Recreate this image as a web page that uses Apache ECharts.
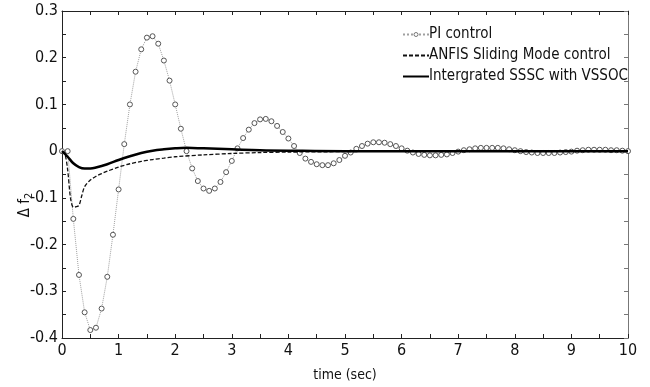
<!DOCTYPE html>
<html><head><meta charset="utf-8">
<script src="https://cdn.jsdelivr.net/npm/echarts@6/dist/echarts.min.js"></script>
<style>html,body{margin:0;padding:0;background:#fff}#c{width:650px;height:387px}</style>
</head><body><div id="c"></div>
<script>
// PI control, sampled every 0.1 s
const piTime = [0,0.1,0.2,0.3,0.4,0.5,0.6,0.7,0.8,0.9,1,1.1,1.2,1.3,1.4,1.5,1.6,1.7,1.8,1.9,2,2.1,2.2,2.3,2.4,2.5,2.6,2.7,2.8,2.9,3,3.1,3.2,3.3,3.4,3.5,3.6,3.7,3.8,3.9,4,4.1,4.2,4.3,4.4,4.5,4.6,4.7,4.8,4.9,5,5.1,5.2,5.3,5.4,5.5,5.6,5.7,5.8,5.9,6,6.1,6.2,6.3,6.4,6.5,6.6,6.7,6.8,6.9,7,7.1,7.2,7.3,7.4,7.5,7.6,7.7,7.8,7.9,8,8.1,8.2,8.3,8.4,8.5,8.6,8.7,8.8,8.9,9,9.1,9.2,9.3,9.4,9.5,9.6,9.7,9.8,9.9,10];
const piValues = [0,0,-0.145,-0.265,-0.345,-0.383,-0.378,-0.337,-0.269,-0.179,-0.082,0.015,0.100,0.170,0.218,0.243,0.246,0.230,0.194,0.151,0.100,0.048,0.000,-0.037,-0.064,-0.080,-0.085,-0.080,-0.066,-0.045,-0.021,0.006,0.028,0.046,0.060,0.068,0.069,0.064,0.054,0.041,0.027,0.011,-0.004,-0.016,-0.023,-0.028,-0.030,-0.030,-0.026,-0.019,-0.010,-0.003,0.005,0.011,0.016,0.019,0.019,0.018,0.015,0.011,0.006,0.001,-0.003,-0.006,-0.008,-0.009,-0.009,-0.008,-0.007,-0.004,-0.001,0.002,0.004,0.006,0.007,0.007,0.007,0.007,0.006,0.004,0.002,0.000,-0.002,-0.003,-0.004,-0.004,-0.004,-0.004,-0.003,-0.002,-0.001,0.001,0.002,0.003,0.003,0.003,0.003,0.002,0.002,0.001,0.000];

// ANFIS sliding mode control
const anfisTime = [0,0.05,0.1,0.15,0.2,0.25,0.3,0.35,0.4,0.5,0.6,0.7,0.8,1.0,1.2,1.4,1.6,1.8,2.0,2.5,3.0,3.5,4.0,5,6,7,8,9,10];
const anfisValues = [0,-0.005,-0.04,-0.10,-0.12,-0.119,-0.116,-0.095,-0.076,-0.062,-0.054,-0.048,-0.043,-0.034,-0.027,-0.022,-0.018,-0.015,-0.012,-0.008,-0.005,-0.003,-0.002,-0.001,0,0,0,0,0];

// Integrated SSSC with VSSOC
const sssTime = [0,0.1,0.2,0.3,0.4,0.5,0.6,0.8,1.0,1.2,1.4,1.6,1.8,2.0,2.2,2.5,3.0,3.5,4,5,6,7,8,9,10];
const sssValues = [0,-0.012,-0.026,-0.034,-0.037,-0.037,-0.035,-0.028,-0.019,-0.011,-0.004,0.001,0.004,0.006,0.007,0.006,0.004,0.002,0.001,0,0,0,0,0,0];

const seriesNames = ['PI control','ANFIS Sliding Mode control','Intergrated SSSC with VSSOC'];
const xLabelStep = 1, yLabelStep = 0.1;

const FONT = '"DejaVu Sans Condensed","DejaVu Sans",sans-serif';
const zip = (a,b)=>a.map((t,i)=>[t,b[i]]);
const isMult = (v,s)=>Math.abs(v/s - Math.round(v/s)) < 1e-6;

const chart = echarts.init(document.getElementById('c'));
const axisLine = {show:true, onZero:false, lineStyle:{color:'#222', width:1}};
chart.setOption({
  animation:false,
  backgroundColor:'#fff',
  grid:{left:62, right:22, top:11, bottom:46},
  legend:{
    orient:'vertical', left:397, top:22, itemGap:6, itemWidth:26, itemHeight:5,
    textStyle:{fontFamily:FONT, fontSize:15, color:'#111', padding:[0,0,0,-5]},
    data:[
      {name:seriesNames[0], itemStyle:{color:'#fff', borderColor:'#555', borderWidth:0.8}},
      {name:seriesNames[1], itemStyle:{opacity:0}},
      {name:seriesNames[2], itemStyle:{opacity:0}}
    ]
  },
  xAxis:[{
    type:'value', min:0, max:10, interval:0.5,
    name:'time (sec)', nameLocation:'middle', nameGap:30,
    nameTextStyle:{fontFamily:FONT, fontSize:14, color:'#111'},
    axisLine:axisLine, splitLine:{show:false},
    axisTick:{inside:true, length:4, lineStyle:{color:'#222'}},
    axisLabel:{fontFamily:FONT, fontSize:16, color:'#111', margin:5,
      formatter:v=>isMult(v,xLabelStep)?String(Math.round(v)):''}
  },{
    type:'value', position:'top', min:0, max:10, interval:0.5,
    axisLine:axisLine, splitLine:{show:false},
    axisTick:{inside:true, length:4, lineStyle:{color:'#222'}},
    axisLabel:{show:false}
  }],
  yAxis:[{
    type:'value', min:-0.4, max:0.3, interval:0.05,
    axisLine:axisLine, splitLine:{show:false},
    axisTick:{inside:true, length:4, lineStyle:{color:'#222'}},
    axisLabel:{fontFamily:FONT, fontSize:16, color:'#111', margin:4,
      formatter:v=>{ if(!isMult(v,yLabelStep)) return ''; const r=Math.round(v*10)/10; return r===0?'0':r.toFixed(1);} }
  },{
    type:'value', position:'right', min:-0.4, max:0.3, interval:0.05,
    axisLine:{show:true, onZero:false, lineStyle:{color:'#777', width:1}}, splitLine:{show:false},
    axisTick:{inside:true, length:4, lineStyle:{color:'#777'}},
    axisLabel:{show:false}
  }],
  graphic:[{
    type:'text', x:25, y:205, rotation:Math.PI/2,
    style:{
      text:'{n|\u0394 f}{s|2}', align:'center', verticalAlign:'middle',
      rich:{ n:{fontFamily:FONT, fontSize:15, fill:'#111'}, s:{fontFamily:FONT, fontSize:11, fill:'#111', padding:[8,0,0,0]} }
    }
  }],
  series:[{
    name:seriesNames[0], type:'line', data:zip(piTime,piValues),
    symbol:'circle', symbolSize:5, showAllSymbol:true,
    lineStyle:{color:'#a0a0a0', width:1, type:'dotted'},
    itemStyle:{color:'#ffffff', borderColor:'#555', borderWidth:1},
    z:2
  },{
    name:seriesNames[1], type:'line', data:zip(anfisTime,anfisValues), smooth:0.3,
    symbol:'none', lineStyle:{color:'#111', width:1.3, type:[4,2]},
    itemStyle:{color:'#111'}, z:3
  },{
    name:seriesNames[2], type:'line', data:zip(sssTime,sssValues), smooth:0.4,
    symbol:'none', lineStyle:{color:'#000', width:2.5},
    itemStyle:{color:'#000'}, z:4
  }]
});
</script></body></html>
